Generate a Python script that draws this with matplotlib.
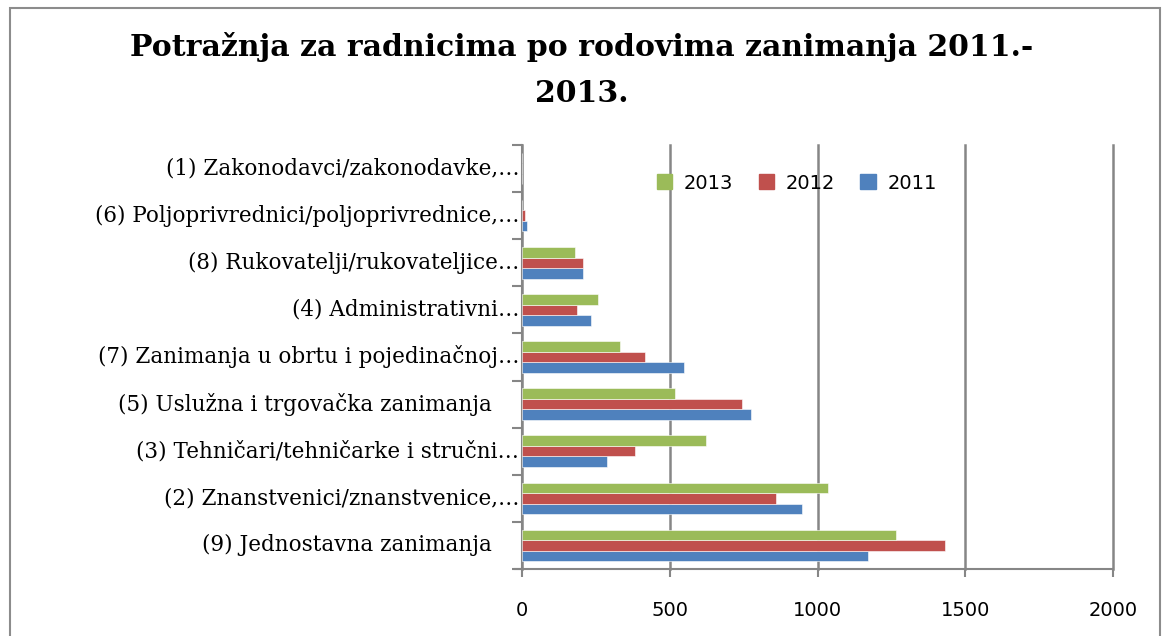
import numpy as np
import matplotlib.pyplot as plt
from matplotlib.patches import Patch, Rectangle

# categories listed bottom to top, as Excel draws them
categories = [
    "(9) Jednostavna zanimanja",
    "(2) Znanstvenici/znanstvenice,\u2026",
    "(3) Tehničari/tehničarke i stručni\u2026",
    "(5) Uslužna i trgovačka zanimanja",
    "(7) Zanimanja u obrtu i pojedinačnoj\u2026",
    "(4) Administrativni\u2026",
    "(8) Rukovatelji/rukovateljice\u2026",
    "(6) Poljoprivrednici/poljoprivrednice,\u2026",
    "(1) Zakonodavci/zakonodavke,\u2026",
]
y2011 = [1172, 948, 286, 774, 547, 235, 206, 18, 1]
y2012 = [1433, 860, 381, 744, 417, 185, 206, 10, 1]
y2013 = [1267, 1035, 621, 519, 330, 258, 178, 1, 1]
years = ["2011", "2012", "2013"]
colors = {"2011": "#4F81BD", "2012": "#C0504D", "2013": "#9BBB59"}
xticks = [0, 500, 1000, 1500, 2000]

fig = plt.figure(figsize=(11.63, 6.36), dpi=100)
fig.patches.append(Rectangle((10/1163, -0.05), 1150/1163, 1.05 - 8/636, transform=fig.transFigure,
                             fill=False, edgecolor='#8c8c8c', linewidth=1.5))

ax = fig.add_axes([522/1163, 1 - 569/636, 591/1163, 424/636])
pos = np.arange(len(categories))
h = 0.224
for k, (yr, vals) in enumerate(zip(years, [y2011, y2012, y2013])):
    ax.barh(pos + (k - 1) * h, vals, height=h, color=colors[yr], label=yr,
            edgecolor='white', linewidth=0.4, zorder=3)

ax.set_xlim(0, 2000)
ax.set_ylim(-0.5, len(categories) - 0.5)
ax.set_xticks(xticks)
ax.set_xticklabels([str(t) for t in xticks], fontsize=14, family='DejaVu Sans')
ax.xaxis.grid(True, color='#868686', linewidth=1.8, zorder=0)
for gl in ax.get_xgridlines():
    gl.set_clip_on(False)
ax.tick_params(axis='x', length=6, width=1.5, color='#868686', pad=17, direction='out')

ax.set_yticks(np.arange(len(categories) + 1) - 0.5)
ax.set_yticklabels([])
ax.tick_params(axis='y', length=7, width=1.5, color='#868686', direction='out')
for i, lab in enumerate(categories):
    off = -2 if lab.endswith('\u2026') else -22
    ax.annotate(lab, xy=(0, i), xycoords=('axes fraction', 'data'), xytext=(off, 0),
                textcoords='offset points', ha='right', va='center',
                fontsize=15.5, family='DejaVu Serif')

for s in ['top', 'right']:
    ax.spines[s].set_visible(False)
for s in ['left', 'bottom']:
    ax.spines[s].set_color('#868686')
    ax.spines[s].set_linewidth(1.5)
ax.spines['bottom'].set_bounds(-25, 2000)
ax.spines['bottom'].set_clip_on(False)

handles = [Patch(color=colors[y]) for y in ["2013", "2012", "2011"]]
ax.legend(handles, ["2013", "2012", "2011"], loc='center', bbox_to_anchor=(0.465, 0.91),
          ncol=3, frameon=False, fontsize=14, handlelength=0.8, handleheight=0.8,
          columnspacing=1.3, handletextpad=0.6)

fig.text(0.5, 0.89, "Potražnja za radnicima po rodovima zanimanja 2011.-\n2013.",
         ha='center', va='center', fontsize=21.5, fontweight='bold', family='DejaVu Serif',
         linespacing=1.75)

plt.savefig('out.png', dpi=100)
